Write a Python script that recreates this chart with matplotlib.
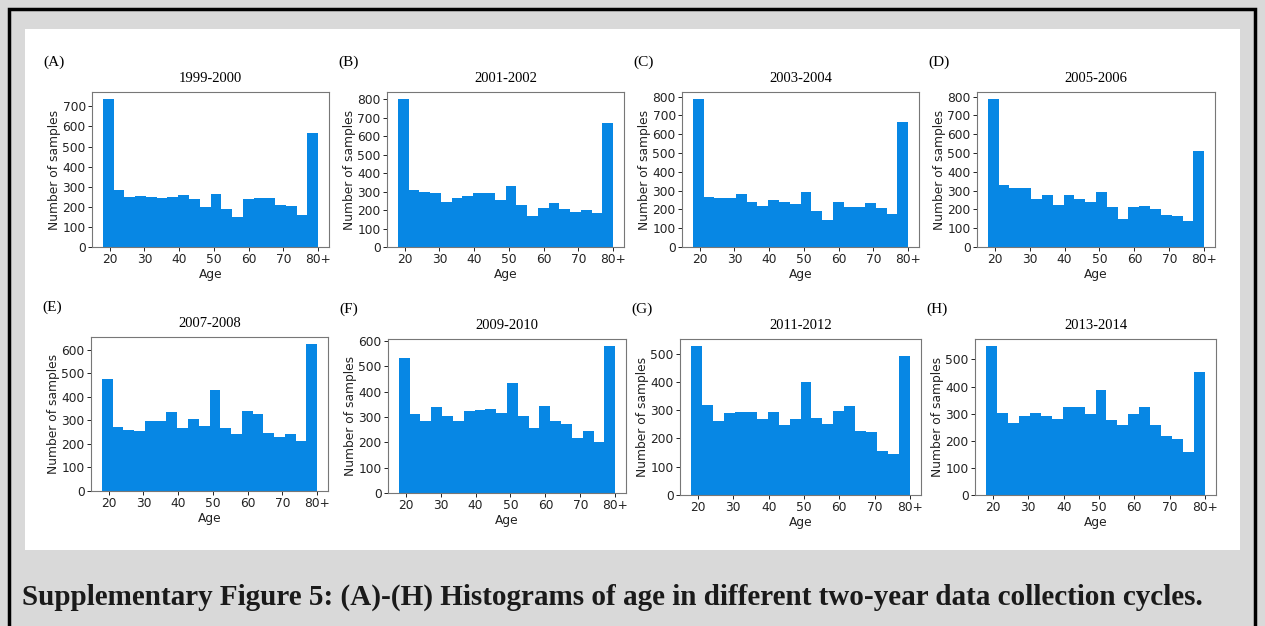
import numpy as np
import matplotlib.pyplot as plt
from matplotlib.patches import Rectangle
from matplotlib.ticker import MultipleLocator

# ============== data ===================
cycles = ['1999-2000', '2001-2002', '2003-2004', '2005-2006',
          '2007-2008', '2009-2010', '2011-2012', '2013-2014']
letters = ['(A)', '(B)', '(C)', '(D)', '(E)', '(F)', '(G)', '(H)']

# 20 age bins between 18 and 80 (last bin holds 80+)
bin_edges = np.linspace(18, 80, 21)

counts_1999 = [735, 283, 250, 255, 250, 243, 248, 260, 240, 200,
               262, 188, 150, 240, 245, 245, 210, 202, 160, 570]
counts_2001 = [800, 310, 300, 295, 245, 265, 278, 290, 290, 255,
               328, 225, 170, 213, 238, 208, 192, 198, 185, 670]
counts_2003 = [785, 265, 260, 262, 280, 240, 220, 250, 238, 228,
               293, 192, 143, 240, 212, 212, 233, 205, 175, 663]
counts_2005 = [785, 330, 313, 312, 255, 278, 225, 275, 253, 240,
               293, 215, 150, 215, 220, 203, 172, 163, 138, 510]
counts_2007 = [475, 272, 260, 253, 297, 297, 335, 267, 305, 277,
               430, 267, 242, 340, 328, 247, 228, 240, 210, 622]
counts_2009 = [533, 310, 283, 338, 305, 283, 322, 328, 333, 315,
               435, 305, 255, 343, 282, 270, 218, 243, 200, 578]
counts_2011 = [525, 317, 262, 290, 295, 292, 268, 293, 248, 268,
               400, 272, 250, 297, 315, 225, 223, 157, 145, 490]
counts_2013 = [548, 303, 267, 293, 303, 290, 282, 323, 323, 300,
               388, 275, 260, 300, 323, 258, 218, 207, 160, 455]

all_counts = [counts_1999, counts_2001, counts_2003, counts_2005,
              counts_2007, counts_2009, counts_2011, counts_2013]

xticks = [20, 30, 40, 50, 60, 70, 80]
xticklabels = ['20', '30', '40', '50', '60', '70', '80+']

caption = ('Supplementary Figure 5: (A)-(H) Histograms of age in different '
           'two-year data collection cycles.')

# ============== layout (pixels) ===================
W, H = 1265, 626
# left, right, top, bottom of each axes
boxes = [(92, 329, 92, 247), (387, 624, 92, 247),
         (682, 919, 92, 247), (977, 1215, 92, 247),
         (91, 328, 337, 491), (388, 626, 339, 493),
         (680, 921, 339, 495), (975, 1216, 339, 495)]

bar_color = '#0787E4'

fig = plt.figure(figsize=(W / 100, H / 100), dpi=100)
fig.patch.set_facecolor('#d9d9d9')

# outer frame and white panel behind the histograms
fig.patches.append(Rectangle((8.5 / W, -0.05), (1255 - 8.5) / W, 1.05 - 9.5 / H,
                             transform=fig.transFigure, fill=False,
                             edgecolor='black', linewidth=2.5, zorder=-2))
fig.patches.append(Rectangle((25 / W, 1 - 550 / H), (1240 - 25) / W, (550 - 29) / H,
                             transform=fig.transFigure, facecolor='white',
                             edgecolor='none', zorder=-1))

for i in range(8):
    l, r, t, b = boxes[i]
    ax = fig.add_axes([l / W, 1 - b / H, (r - l) / W, (b - t) / H])
    ax.set_zorder(1)
    ax.hist(bin_edges[:-1], bins=bin_edges, weights=all_counts[i],
            color=bar_color)
    ax.set_xticks(xticks)
    ax.set_xticklabels(xticklabels)
    ax.yaxis.set_major_locator(MultipleLocator(100))
    ax.tick_params(labelsize=8.8, length=3, width=0.7, pad=1.5,
                   colors='#222222')
    ax.set_xlabel('Age', fontsize=8.8, labelpad=1, color='#222222')
    ax.set_ylabel('Number of samples', fontsize=8.8, labelpad=1,
                  color='#222222')
    ax.set_title(cycles[i], fontsize=10.5, family='Liberation Serif', pad=7)
    for s in ax.spines.values():
        s.set_color('#777777')
        s.set_linewidth(0.8)
    # panel letter above the title
    fig.text((l - 49) / W, 1 - (t - 30) / H, letters[i],
             family='Liberation Serif', fontsize=11, va='center', ha='left')

fig.text(22 / W, 1 - 597 / H, caption, family='Liberation Serif',
         fontweight='bold', fontsize=21, va='center', ha='left',
         color='#1a1a1a')

plt.savefig('out.png', dpi=100, facecolor=fig.get_facecolor())
